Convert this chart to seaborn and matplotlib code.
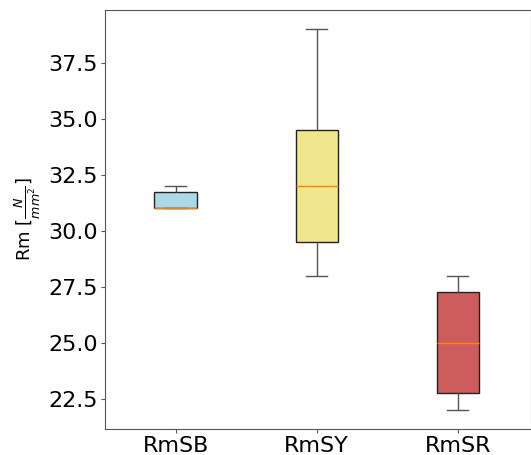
import pandas as pd
import matplotlib
matplotlib.use('Agg')
import matplotlib.pyplot as plt
import seaborn as sns

groups = ['RmSB', 'RmSY', 'RmSR']
rm_sb = [31, 31, 31, 31, 32, 32]
rm_sy = [28, 29, 31, 33, 35, 39]
rm_sr = [22, 22, 25, 25, 28, 28]
box_colors = ['lightblue', 'khaki', 'indianred']

df = pd.DataFrame({
    'group': [groups[0]] * len(rm_sb) + [groups[1]] * len(rm_sy) + [groups[2]] * len(rm_sr),
    'Rm': rm_sb + rm_sy + rm_sr,
})

fig = plt.figure(figsize=(5.31, 4.55), dpi=100)
ax = fig.add_axes([0.198, 0.057, 0.802, 0.921])
sns.boxplot(data=df, x='group', y='Rm', hue='group', palette=box_colors, legend=False,
            width=0.3, whis=100, linewidth=1.0, saturation=1, ax=ax,
            boxprops=dict(edgecolor='#222222'),
            whiskerprops=dict(color='#555555'),
            capprops=dict(color='#555555'),
            medianprops=dict(color='#ff7f0e', linewidth=1.0))
ax.set_xlim(-0.5, 2.52)
ax.set_xlabel('')
ax.set_ylabel(r'Rm [$\frac{N}{mm^2}$]', fontsize=13)
ax.tick_params(axis='both', labelsize=16, length=3, pad=2, color='#555555')
for s in ax.spines.values():
    s.set_color('#555555')
ax.set_yticks([22.5, 25.0, 27.5, 30.0, 32.5, 35.0, 37.5])
ax.set_yticklabels(['22.5', '25.0', '27.5', '30.0', '32.5', '35.0', '37.5'])
ax.set_ylim(21.15, 39.85)
fig.savefig('out.png', dpi=100)
